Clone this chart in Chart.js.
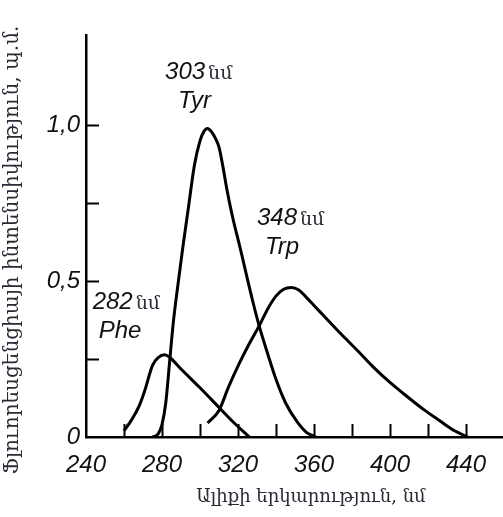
<!DOCTYPE html>
<html>
<head>
<meta charset="utf-8">
<script src="https://cdn.jsdelivr.net/npm/chart.js@4.4.1/dist/chart.umd.min.js"></script>
<style>
  html, body { margin: 0; padding: 0; background: #fff; }
  #wrap { width: 503px; height: 517px; position: relative; }
</style>
</head>
<body>
<div id="wrap"><canvas id="spectra"></canvas></div>
<script>
// Wavelengths (nm) and relative fluorescence intensity
const pheWave = [260, 264, 268, 271, 275, 278, 281.5, 284, 290, 300, 310, 318, 326];
const pheInt  = [0.02, 0.055, 0.1, 0.15, 0.23, 0.255, 0.264, 0.256, 0.218, 0.158, 0.095, 0.045, 0];

const tyrWave = [275, 278, 280, 282, 284, 286, 288, 291, 294, 297, 300, 302, 304, 306, 308, 310, 312, 314, 317, 321, 328, 331, 336, 340, 345, 351, 356, 361];
const tyrInt  = [0, 0.01, 0.04, 0.11, 0.24, 0.37, 0.47, 0.61, 0.74, 0.87, 0.95, 0.98, 0.99, 0.98, 0.96, 0.93, 0.87, 0.8, 0.71, 0.61, 0.43, 0.36, 0.26, 0.185, 0.11, 0.05, 0.015, 0];

const trpWave = [304, 310, 315, 321, 326, 331, 336, 340, 344, 348, 352, 356, 360, 365, 374, 383, 391, 400, 409, 418, 426, 434, 441];
const trpInt  = [0.045, 0.085, 0.16, 0.24, 0.3, 0.355, 0.415, 0.452, 0.474, 0.48, 0.472, 0.448, 0.422, 0.39, 0.332, 0.277, 0.226, 0.175, 0.13, 0.087, 0.053, 0.02, 0];

const xTicks = [240, 260, 280, 300, 320, 340, 360, 380, 400, 420, 440];
const xLabeled = [240, 280, 320, 360, 400, 440];
const yTicks = [0, 0.25, 0.5, 0.75, 1.0];
const yLabels = { 0: "0", 0.5: "0,5", 1: "1,0" };

const peakNames = ["Phe", "Tyr", "Trp"];
const peakNm = ["282", "303", "348"];

const xTitle = "Ալիքի երկարություն, նմ";
const yTitle = "Ֆլուորեսցենցիայի ինտենսիվություն, պ.մ.";

const toPoints = (xs, ys) => xs.map((v, i) => ({ x: v, y: ys[i] }));

const numFont = "italic 24px 'Liberation Sans', sans-serif";
const unitFont = "19px 'DejaVu Serif', serif";
const textColor = "#2a2a36";

// where the peak captions sit (data coords of the left/baseline of the number line)
const captionPos = [
    { x: 243.5, y: 0.41, nameDx: 6 },
    { x: 281.6, y: 1.148, nameDx: 13 },
    { x: 330, y: 0.68, nameDx: 8 },
];

const decorations = {
    id: "decorations",
    afterDraw(chart) {
        const { ctx, chartArea } = chart;
        const x = chart.scales.x;
        const y = chart.scales.y;
        ctx.save();
        ctx.strokeStyle = "#000";
        ctx.lineWidth = 2;

        // inward tick marks
        xTicks.forEach((v) => {
            if (v === 240) return;
            const px = Math.round(x.getPixelForValue(v)) + 0.5;
            ctx.beginPath();
            ctx.moveTo(px, chartArea.bottom);
            ctx.lineTo(px, chartArea.bottom - 13);
            ctx.stroke();
        });
        yTicks.forEach((v) => {
            if (v === 0) return;
            const py = Math.round(y.getPixelForValue(v)) + 0.5;
            ctx.beginPath();
            ctx.moveTo(chartArea.left, py);
            ctx.lineTo(chartArea.left + 13, py);
            ctx.stroke();
        });

        // peak captions
        ctx.textBaseline = "alphabetic";
        ctx.textAlign = "left";
        captionPos.forEach((c, i) => {
            const px = x.getPixelForValue(c.x);
            const py = y.getPixelForValue(c.y);
            ctx.font = numFont;
            ctx.fillStyle = "#111";
            ctx.fillText(peakNm[i], px, py);
            const w = ctx.measureText(peakNm[i]).width;
            ctx.font = unitFont;
            ctx.fillStyle = textColor;
            ctx.fillText("նմ", px + w + 3, py);
            ctx.font = numFont;
            ctx.fillStyle = "#111";
            ctx.fillText(peakNames[i], px + c.nameDx, py + 29);
        });

        // axis titles
        ctx.fillStyle = textColor;
        ctx.font = "18px 'DejaVu Serif', serif";
        ctx.textAlign = "center";
        ctx.textBaseline = "middle";
        ctx.fillText(xTitle, 311, 497);
        ctx.font = "20px 'DejaVu Serif', serif";
        ctx.translate(13, 250);
        ctx.rotate(-Math.PI / 2);
        ctx.fillText(yTitle, 0, 0);
        ctx.restore();
    },
};

const ctx = document.getElementById("spectra").getContext("2d");
const lineStyle = {
    borderColor: "#000",
    borderWidth: 3,
    pointRadius: 0,
    fill: false,
    cubicInterpolationMode: "monotone",
};

const chart = new Chart(ctx, {
    type: "line",
    data: {
        datasets: [
            { label: "Phe", data: toPoints(pheWave, pheInt), ...lineStyle },
            { label: "Tyr", data: toPoints(tyrWave, tyrInt), ...lineStyle },
            { label: "Trp", data: toPoints(trpWave, trpInt), ...lineStyle },
        ],
    },
    options: {
        responsive: true,
        maintainAspectRatio: false,
        animation: false,
        layout: { padding: { left: 6, top: 35, right: 0, bottom: 0 } },
        plugins: {
            legend: { display: false },
            tooltip: { enabled: false },
        },
        scales: {
            x: {
                type: "linear",
                min: 240,
                max: 459.5,
                afterBuildTicks: (scale) => {
                    scale.ticks = xTicks.map((v) => ({ value: v }));
                },
                afterFit: (scale) => {
                    scale.height = 80;
                },
                grid: { display: false, drawTicks: false },
                border: { display: true, color: "#000", width: 2.5 },
                ticks: {
                    padding: 14,
                    color: "#111",
                    font: { family: "'Liberation Sans', sans-serif", size: 24, style: "italic" },
                    maxRotation: 0,
                    autoSkip: false,
                    callback: (v) => (xLabeled.includes(v) ? String(v) : ""),
                },
            },
            y: {
                min: 0,
                max: 1.29,
                afterBuildTicks: (scale) => {
                    scale.ticks = yTicks.map((v) => ({ value: v }));
                },
                afterFit: (scale) => {
                    scale.width = 80;
                },
                grid: { display: false, drawTicks: false },
                border: { display: true, color: "#000", width: 2.5 },
                ticks: {
                    padding: 6,
                    color: "#111",
                    font: { family: "'Liberation Sans', sans-serif", size: 24, style: "italic" },
                    autoSkip: false,
                    callback: (v) => yLabels[v] || "",
                },
            },
        },
    },
    plugins: [decorations],
});
</script>
</body>
</html>
